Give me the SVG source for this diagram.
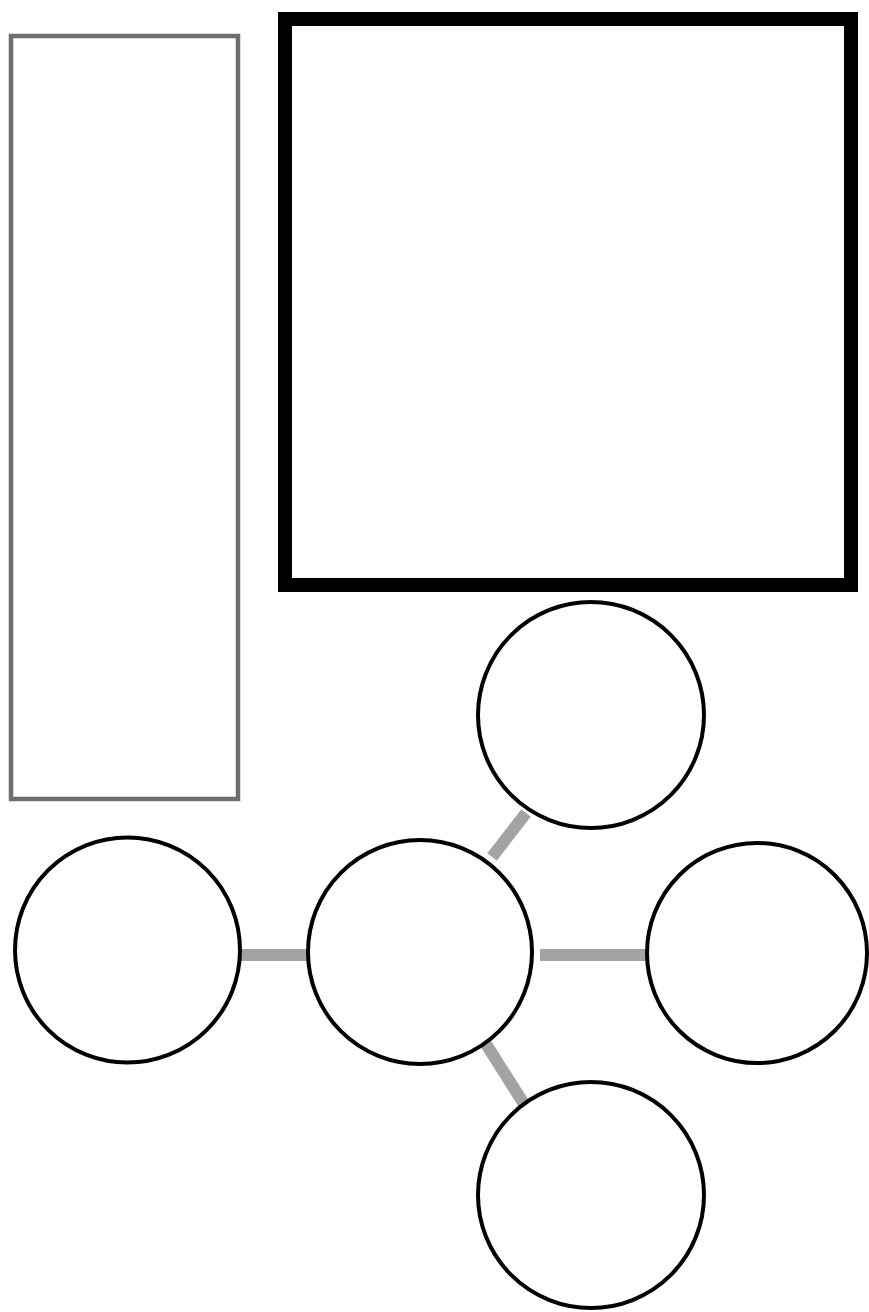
<svg xmlns="http://www.w3.org/2000/svg" width="869" height="1312" viewBox="0 0 869 1312">
<style>
.node{fill:#fff;stroke:#000;stroke-width:4}
.panel{fill:#fff;stroke:#6e6e6e;stroke-width:4.5}
.frame{fill:#fff;stroke:#000;stroke-width:14}
.link{stroke:#a3a3a3;stroke-width:12;stroke-linecap:butt;fill:none}
</style>
<rect width="869" height="1312" fill="#fff"/>
<g id="panel-left"><rect class="panel" x="11" y="36" width="227" height="763"/></g>
<g id="frame-main"><rect class="frame" x="285" y="19" width="566" height="566"/></g>
<g id="connectors">
<line class="link" x1="240" y1="955" x2="308" y2="955"/>
<line class="link" x1="540" y1="955" x2="648" y2="955"/>
<line class="link" x1="492" y1="857" x2="526" y2="813"/>
<line class="link" x1="486" y1="1044" x2="524" y2="1104"/>
</g>
<g id="node-top"><circle class="node" cx="591" cy="715" r="113"/></g>
<g id="node-left"><circle class="node" cx="127.5" cy="950" r="112.5"/></g>
<g id="node-center"><circle class="node" cx="420" cy="952" r="112"/></g>
<g id="node-right"><circle class="node" cx="757" cy="953" r="110"/></g>
<g id="node-bottom"><circle class="node" cx="591" cy="1195" r="113"/></g>
</svg>
